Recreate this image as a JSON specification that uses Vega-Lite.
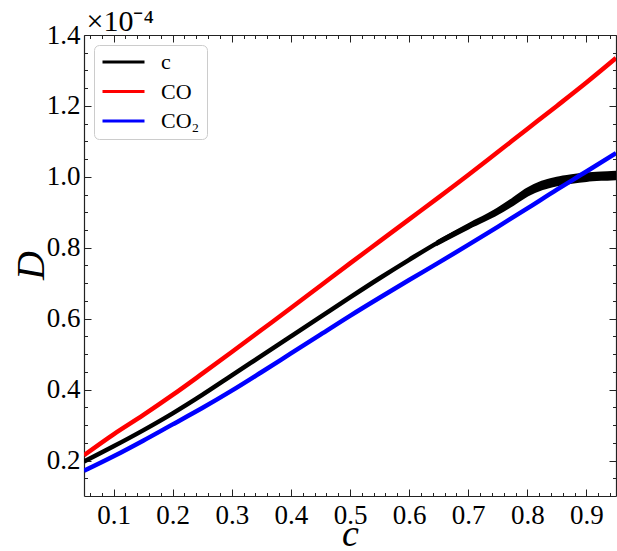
{
  "$schema": "https://vega.github.io/schema/vega-lite/v6.json",
  "width": 532,
  "height": 461,
  "autosize": {"type": "none"},
  "padding": {"left": 84, "top": 35, "right": 1, "bottom": 55},
  "background": "white",
  "config": {
    "view": {"stroke": null},
    "axis": {"labelFont": "Liberation Serif", "labelFontSize": 27, "labelColor": "black", "domainColor": "#222222", "domainWidth": 1.2, "tickColor": "#222222", "tickWidth": 1, "grid": false, "labelFlush": false, "labelOverlap": false},
    "axisTop": {"titleFontSize": 30, "titleFont": "Liberation Serif", "titleFontWeight": "normal", "titleColor": "black"},
    "legend": {"symbolType": "stroke", "symbolSize": 1764, "symbolStrokeWidth": 3, "labelFont": "Liberation Serif", "labelFontSize": 22, "labelColor": "black", "labelOffset": 15, "padding": 7, "rowPadding": 7.5, "clipHeight": 20, "strokeColor": "#cccccc", "cornerRadius": 5, "fillColor": "white", "strokeWidth": 1}
  },
  "datasets": {
    "curves": [
      {"c": 0.05, "D": 0.197, "series": "c"},
      {"c": 0.10, "D": 0.240, "series": "c"},
      {"c": 0.15, "D": 0.285, "series": "c"},
      {"c": 0.20, "D": 0.333, "series": "c"},
      {"c": 0.25, "D": 0.385, "series": "c"},
      {"c": 0.30, "D": 0.440, "series": "c"},
      {"c": 0.35, "D": 0.495, "series": "c"},
      {"c": 0.40, "D": 0.550, "series": "c"},
      {"c": 0.45, "D": 0.605, "series": "c"},
      {"c": 0.50, "D": 0.660, "series": "c"},
      {"c": 0.55, "D": 0.714, "series": "c"},
      {"c": 0.60, "D": 0.766, "series": "c"},
      {"c": 0.65, "D": 0.816, "series": "c"},
      {"c": 0.70, "D": 0.860, "series": "c"},
      {"c": 0.75, "D": 0.903, "series": "c"},
      {"c": 0.775, "D": 0.929, "series": "c"},
      {"c": 0.80, "D": 0.957, "series": "c"},
      {"c": 0.825, "D": 0.976, "series": "c"},
      {"c": 0.85, "D": 0.987, "series": "c"},
      {"c": 0.875, "D": 0.994, "series": "c"},
      {"c": 0.90, "D": 0.999, "series": "c"},
      {"c": 0.925, "D": 1.002, "series": "c"},
      {"c": 0.95, "D": 1.004, "series": "c"},
      {"c": 0.05, "D": 0.215, "series": "CO"},
      {"c": 0.10, "D": 0.274, "series": "CO"},
      {"c": 0.15, "D": 0.328, "series": "CO"},
      {"c": 0.20, "D": 0.385, "series": "CO"},
      {"c": 0.25, "D": 0.445, "series": "CO"},
      {"c": 0.30, "D": 0.506, "series": "CO"},
      {"c": 0.35, "D": 0.568, "series": "CO"},
      {"c": 0.40, "D": 0.630, "series": "CO"},
      {"c": 0.45, "D": 0.693, "series": "CO"},
      {"c": 0.50, "D": 0.756, "series": "CO"},
      {"c": 0.55, "D": 0.818, "series": "CO"},
      {"c": 0.60, "D": 0.880, "series": "CO"},
      {"c": 0.65, "D": 0.942, "series": "CO"},
      {"c": 0.70, "D": 1.005, "series": "CO"},
      {"c": 0.75, "D": 1.070, "series": "CO"},
      {"c": 0.80, "D": 1.135, "series": "CO"},
      {"c": 0.85, "D": 1.200, "series": "CO"},
      {"c": 0.90, "D": 1.266, "series": "CO"},
      {"c": 0.95, "D": 1.335, "series": "CO"},
      {"c": 0.05, "D": 0.171, "series": "CO₂"},
      {"c": 0.10, "D": 0.212, "series": "CO₂"},
      {"c": 0.15, "D": 0.256, "series": "CO₂"},
      {"c": 0.20, "D": 0.302, "series": "CO₂"},
      {"c": 0.25, "D": 0.348, "series": "CO₂"},
      {"c": 0.30, "D": 0.397, "series": "CO₂"},
      {"c": 0.35, "D": 0.449, "series": "CO₂"},
      {"c": 0.40, "D": 0.502, "series": "CO₂"},
      {"c": 0.45, "D": 0.555, "series": "CO₂"},
      {"c": 0.50, "D": 0.608, "series": "CO₂"},
      {"c": 0.55, "D": 0.659, "series": "CO₂"},
      {"c": 0.60, "D": 0.709, "series": "CO₂"},
      {"c": 0.65, "D": 0.758, "series": "CO₂"},
      {"c": 0.70, "D": 0.808, "series": "CO₂"},
      {"c": 0.75, "D": 0.859, "series": "CO₂"},
      {"c": 0.80, "D": 0.911, "series": "CO₂"},
      {"c": 0.85, "D": 0.964, "series": "CO₂"},
      {"c": 0.90, "D": 1.015, "series": "CO₂"},
      {"c": 0.95, "D": 1.067, "series": "CO₂"}
    ],
    "band": [
      {"c": 0.65, "lo": 0.815, "hi": 0.817},
      {"c": 0.70, "lo": 0.858, "hi": 0.862},
      {"c": 0.75, "lo": 0.899, "hi": 0.907},
      {"c": 0.775, "lo": 0.924, "hi": 0.934},
      {"c": 0.80, "lo": 0.951, "hi": 0.963},
      {"c": 0.825, "lo": 0.969, "hi": 0.983},
      {"c": 0.85, "lo": 0.980, "hi": 0.994},
      {"c": 0.875, "lo": 0.987, "hi": 1.001},
      {"c": 0.90, "lo": 0.992, "hi": 1.006},
      {"c": 0.925, "lo": 0.995, "hi": 1.009},
      {"c": 0.95, "lo": 0.997, "hi": 1.011}
    ]
  },
  "layer": [
    {
      "data": {"name": "band"},
      "mark": {"type": "area", "color": "black", "stroke": "black", "strokeWidth": 4.5, "clip": true, "interpolate": "monotone"},
      "encoding": {
        "x": {"field": "c", "type": "quantitative", "scale": {"domain": [0.05, 0.95], "nice": false, "zero": false},
          "axis": {"orient": "bottom", "values": [0.1, 0.2, 0.3, 0.4, 0.5, 0.6, 0.7, 0.8, 0.9], "format": ".1f", "tickSize": -7, "labelPadding": 13,
            "title": "c", "titleFont": "Liberation Serif", "titleFontStyle": "italic", "titleFontWeight": "normal", "titleFontSize": 38, "titleColor": "black", "titleX": 266, "titleY": 49, "titleBaseline": "alphabetic", "titleAlign": "center", "titleAnchor": null}},
        "y": {"field": "lo", "type": "quantitative", "scale": {"domain": [0.1, 1.4], "nice": false, "zero": false},
          "axis": {"orient": "left", "values": [0.2, 0.4, 0.6, 0.8, 1.0, 1.2, 1.4], "format": ".1f", "tickSize": -7, "labelPadding": 11,
            "title": "D", "titleFont": "Liberation Serif", "titleFontStyle": "italic", "titleFontWeight": "normal", "titleFontSize": 40, "titleColor": "black", "titleAngle": -90, "titleX": -41, "titleY": 230, "titleBaseline": "alphabetic", "titleAlign": "center"}},
        "y2": {"field": "hi"}
      }
    },
    {
      "data": {"name": "curves"},
      "transform": [{"filter": "datum.series === 'c'"}],
      "mark": {"type": "line", "strokeWidth": 4.5, "clip": true, "interpolate": "monotone"},
      "encoding": {
        "x": {"field": "c", "type": "quantitative", "axis": {"orient": "bottom", "values": [0.06, 0.08, 0.12, 0.14, 0.16, 0.18, 0.22, 0.24, 0.26, 0.28, 0.32, 0.34, 0.36, 0.38, 0.42, 0.44, 0.46, 0.48, 0.52, 0.54, 0.56, 0.58, 0.62, 0.64, 0.66, 0.68, 0.72, 0.74, 0.76, 0.78, 0.82, 0.84, 0.86, 0.88, 0.92, 0.94], "labels": false, "domain": false, "tickSize": -3.5, "title": null}},
        "y": {"field": "D", "type": "quantitative", "axis": {"orient": "left", "values": [0.15, 0.25, 0.3, 0.35, 0.45, 0.5, 0.55, 0.65, 0.7, 0.75, 0.85, 0.9, 0.95, 1.05, 1.1, 1.15, 1.25, 1.3, 1.35], "labels": false, "domain": false, "tickSize": -3.5, "title": null}},
        "color": {"field": "series", "type": "nominal", "scale": {"domain": ["c", "CO", "CO₂"], "range": ["black", "#ff0000", "#0000ff"]}, "legend": {"title": null, "orient": "top-left", "offset": 10}}
      }
    },
    {
      "data": {"name": "curves"},
      "transform": [{"filter": "datum.series === 'CO'"}],
      "mark": {"type": "line", "strokeWidth": 4.5, "clip": true, "interpolate": "monotone"},
      "encoding": {
        "x": {"field": "c", "type": "quantitative", "axis": {"orient": "top", "values": [0.1, 0.2, 0.3, 0.4, 0.5, 0.6, 0.7, 0.8, 0.9], "labels": false, "tickSize": -7,
          "title": "×10⁻⁴", "titleFont": "Liberation Serif", "titleFontSize": 30, "titleFontWeight": "normal", "titleColor": "black", "titleX": 2, "titleY": -5, "titleAlign": "left", "titleBaseline": "alphabetic", "titleAnchor": null}},
        "y": {"field": "D", "type": "quantitative", "axis": {"orient": "right", "values": [0.2, 0.4, 0.6, 0.8, 1.0, 1.2, 1.4], "labels": false, "tickSize": -7, "title": null}},
        "color": {"field": "series", "type": "nominal", "legend": {"title": null, "orient": "top-left", "offset": 10}}
      }
    },
    {
      "data": {"name": "curves"},
      "transform": [{"filter": "datum.series === 'CO₂'"}],
      "mark": {"type": "line", "strokeWidth": 4.5, "clip": true, "interpolate": "monotone"},
      "encoding": {
        "x": {"field": "c", "type": "quantitative", "axis": {"orient": "top", "values": [0.06, 0.08, 0.12, 0.14, 0.16, 0.18, 0.22, 0.24, 0.26, 0.28, 0.32, 0.34, 0.36, 0.38, 0.42, 0.44, 0.46, 0.48, 0.52, 0.54, 0.56, 0.58, 0.62, 0.64, 0.66, 0.68, 0.72, 0.74, 0.76, 0.78, 0.82, 0.84, 0.86, 0.88, 0.92, 0.94], "labels": false, "domain": false, "tickSize": -3.5, "title": null}},
        "y": {"field": "D", "type": "quantitative", "axis": {"orient": "right", "values": [0.15, 0.25, 0.3, 0.35, 0.45, 0.5, 0.55, 0.65, 0.7, 0.75, 0.85, 0.9, 0.95, 1.05, 1.1, 1.15, 1.25, 1.3, 1.35], "labels": false, "domain": false, "tickSize": -3.5, "title": null}},
        "color": {"field": "series", "type": "nominal", "legend": {"title": null, "orient": "top-left", "offset": 10}}
      }
    }
  ],
  "resolve": {"axis": {"x": "independent", "y": "independent"}}
}
